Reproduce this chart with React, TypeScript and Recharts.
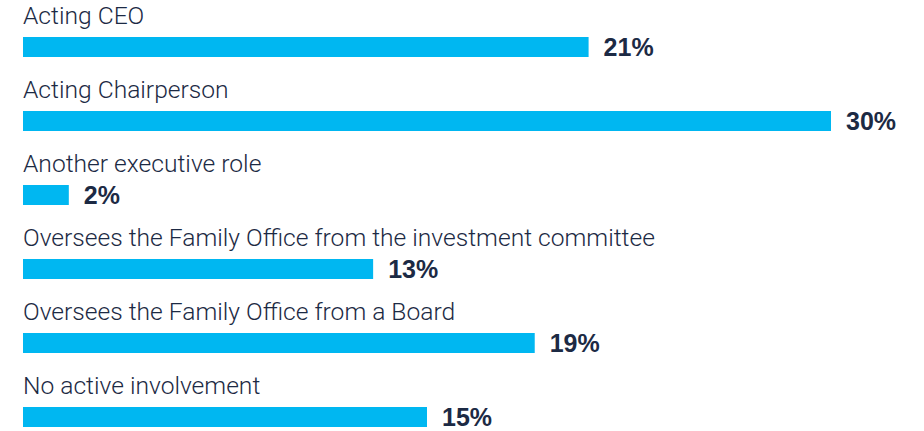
import { BarChart, Bar, XAxis, YAxis, LabelList } from "recharts";

const categories = [
  "Acting CEO",
  "Acting Chairperson",
  "Another executive role",
  "Oversees the Family Office from the investment committee",
  "Oversees the Family Office from a Board",
  "No active involvement",
];

// bar lengths (%)
const shares = [21, 30, 1.7, 13, 19, 15];
const shareLabels = ["21%", "30%", "2%", "13%", "19%", "15%"];

const BAR_COLOR = "#00b7f1";
const TEXT_COLOR = "#1c2a44";

const data = categories.map((name, i) => ({
  name,
  value: shares[i],
  label: shareLabels[i],
}));

function NameLabel(props: any) {
  const { x, y, index } = props;
  return (
    <text
      x={x}
      y={y - 13}
      fill={TEXT_COLOR}
      fontSize={24.6}
      fontFamily="Roboto, 'Liberation Sans', sans-serif"
      fontWeight={300}
    >
      {categories[index]}
    </text>
  );
}

function ValueLabel(props: any) {
  const { x, y, width, height, index } = props;
  return (
    <text
      x={x + width + 15}
      y={y + height - 1}
      fill={TEXT_COLOR}
      fontSize={25}
      fontFamily="'Liberation Sans', Arial, sans-serif"
      fontWeight={700}
    >
      {shareLabels[index]}
    </text>
  );
}

export default function App() {
  return (
    <div
      style={{
        position: "fixed",
        left: 0,
        top: 0,
        width: 924,
        height: 431,
        overflow: "hidden",
        background: "#fff",
      }}
    >
      <BarChart
        width={924}
        height={454}
        data={data}
        layout="vertical"
        margin={{ top: 10, right: 93, bottom: 0, left: 23 }}
        barCategoryGap={0}
      >
        <XAxis type="number" domain={[0, 30]} hide />
        <YAxis type="category" dataKey="name" hide width={0} />
        <Bar dataKey="value" fill={BAR_COLOR} barSize={20} isAnimationActive={false}>
          <LabelList dataKey="name" content={<NameLabel />} />
          <LabelList dataKey="label" content={<ValueLabel />} />
        </Bar>
      </BarChart>
    </div>
  );
}
